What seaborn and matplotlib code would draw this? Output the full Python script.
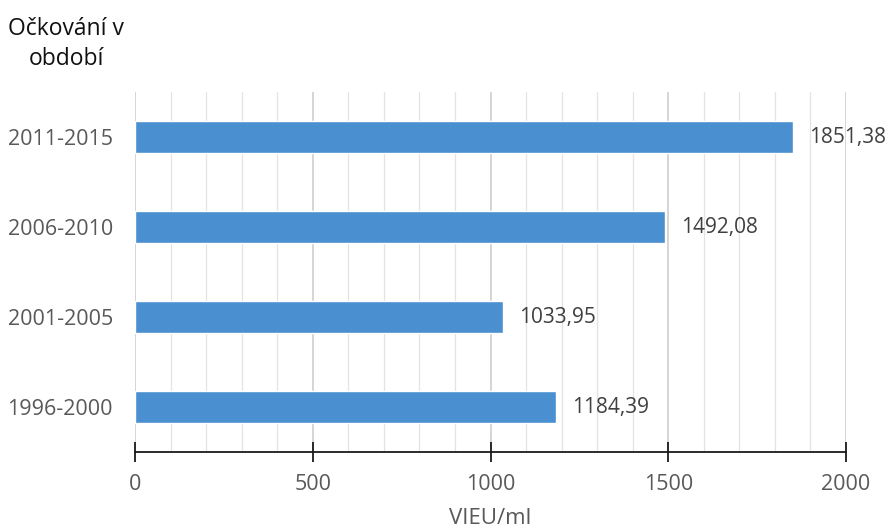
import matplotlib
matplotlib.use("Agg")
import matplotlib.pyplot as plt
import seaborn as sns
import pandas as pd
from matplotlib.ticker import MultipleLocator

periods = ["2011-2015", "2006-2010", "2001-2005", "1996-2000"]
values = [1851.38, 1492.08, 1033.95, 1184.39]
value_labels = ["1851,38", "1492,08", "1033,95", "1184,39"]
x_ticks = [0, 500, 1000, 1500, 2000]

sns.set_theme(style="white")
plt.rcParams["font.family"] = ["Open Sans", "DejaVu Sans"]

df = pd.DataFrame({"period": periods, "value": values})

fig = plt.figure(figsize=(8.9, 5.3), dpi=100)
ax = fig.add_axes([135/890, 1 - 452/530, (846 - 135)/890, (452 - 92)/530])

sns.barplot(data=df, x="value", y="period", order=periods, color="#4a90d0",
            saturation=1, width=0.36, ax=ax)

ax.set_xlim(0, 2000)
ax.set_ylim(3.5, -0.5)

ax.xaxis.set_major_locator(MultipleLocator(500))
ax.xaxis.set_minor_locator(MultipleLocator(100))
ax.grid(False)
for v in range(0, 2001, 100):
    if v % 500 == 0:
        ax.axvline(v, color="#cfc8c8", lw=1.1, zorder=0)
    else:
        ax.axvline(v, color="#e6e2e2", lw=0.9, zorder=0)

for s in ["top", "right", "left"]:
    ax.spines[s].set_visible(False)
ax.spines["bottom"].set_color("#1a1a1a")
ax.spines["bottom"].set_linewidth(1.3)
ax.tick_params(axis="x", which="major", bottom=True, direction="inout", length=14,
               width=1.3, color="#1a1a1a", labelsize=15.5, labelcolor="#595959", pad=9)
ax.tick_params(axis="x", which="minor", bottom=False, length=0)
ax.tick_params(axis="y", left=False, length=0, labelsize=15.5, labelcolor="#595959", pad=16)
ax.set_xticks(x_ticks)
ax.set_xticklabels([str(t) for t in x_ticks])

ax.set_xlabel("VIEU/ml", fontsize=16, color="#595959", labelpad=9)
ax.set_ylabel("")

for i, (v, lab) in enumerate(zip(values, value_labels)):
    ax.text(v + 45, i, lab, va="center", ha="left", fontsize=15, color="#404040")

fig.text(66/890, 1 - 44/530, "Očkování v\nobdobí", ha="center", va="center",
         fontsize=16.5, color="#111111", linespacing=1.3)

fig.savefig("out.png", dpi=100)
